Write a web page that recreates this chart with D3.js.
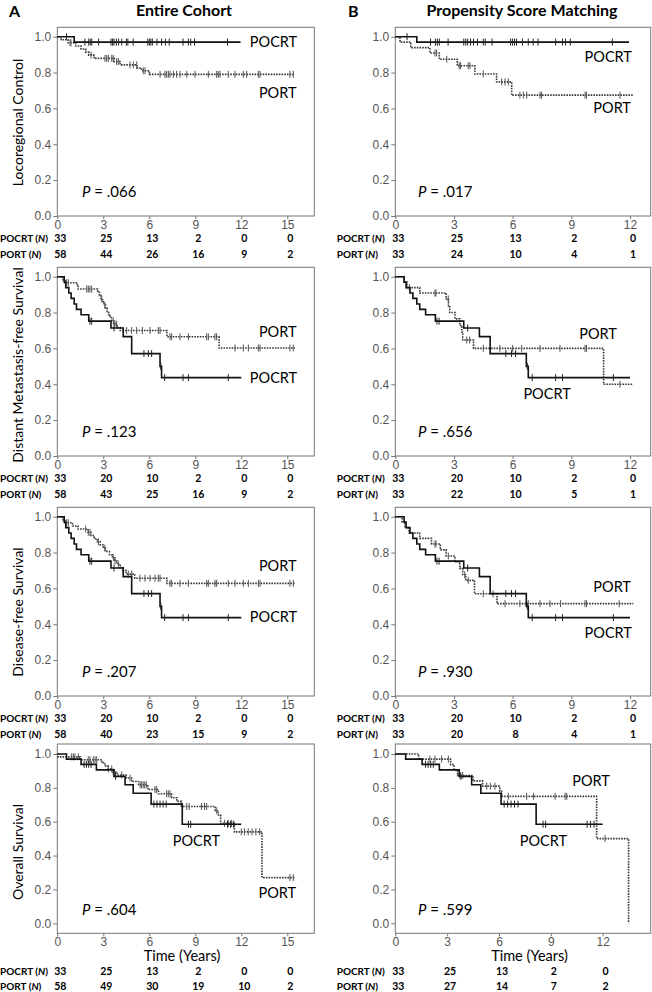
<!DOCTYPE html>
<html><head><meta charset="utf-8">
<script src="https://cdn.jsdelivr.net/npm/d3@7"></script>
<style>body{margin:0;background:#fff}</style>
</head><body><svg id="c" width="652" height="992"></svg>
<script>
// ================= DATA =================
const xTicksEntire = [0, 3, 6, 9, 12, 15];
const xTicksPsm = [0, 3, 6, 9, 12];
const yTicks = [0, 0.2, 0.4, 0.6, 0.8, 1.0];
const yLabels = ["Locoregional Control", "Distant Metastasis-free Survival", "Disease-free Survival", "Overall Survival"];
const pValues = [[".066", ".017"], [".123", ".656"], [".207", ".930"], [".604", ".599"]];

// Locoregional control
const lcPocrtEvents = [[1.1, 0.970]];
const lcPocrtCensor = [0.6, 1.8, 2.05, 2.15, 2.25, 2.7, 3.5, 3.6, 3.7, 3.85, 4.0, 4.2, 4.5, 4.6, 4.95, 5.9, 6.0, 6.1, 6.2, 6.5, 6.8, 7.05, 7.3, 8.2, 8.55, 8.7, 8.95, 11.1];
const lcPocrtEnd = 11.95;
const lcAllPortEvents = [[0.25, 0.983], [0.7, 0.966], [1.2, 0.948], [1.55, 0.931], [1.85, 0.914], [2.05, 0.897], [2.4, 0.879], [3.7, 0.861], [4.1, 0.843], [5.2, 0.825], [5.5, 0.81], [6.0, 0.79]];
const lcAllPortCensor = [0.83, 0.89, 2.2, 3.11, 3.22, 3.33, 3.55, 3.65, 3.87, 3.98, 4.74, 4.96, 5.18, 5.61, 5.72, 6.7, 7.02, 7.13, 7.24, 7.35, 7.57, 7.78, 8.0, 8.44, 8.98, 9.85, 10.39, 10.5, 10.61, 11.15, 11.59, 12.13, 12.35, 13.11, 13.22, 15.17, 15.39];
const lcAllPortEnd = 15.5;
const lcPsmPortEvents = [[0.24, 0.970], [0.79, 0.939], [1.77, 0.909], [2.25, 0.874], [3.17, 0.838], [4.07, 0.792], [5.18, 0.748], [5.95, 0.674]];
const lcPsmPortCensor = [2.03, 2.11, 2.63, 3.27, 3.34, 3.73, 3.82, 4.5, 5.44, 5.61, 5.78, 6.37, 6.55, 6.72, 7.4, 7.48, 9.7, 9.78, 11.49];
const lcPsmPortEnd = 12.17;

// Distant metastasis-free survival
const dmPocrtEvents = [[0.45, 0.970], [0.55, 0.939], [0.75, 0.909], [0.9, 0.879], [1.1, 0.848], [1.25, 0.818], [1.55, 0.788], [2.05, 0.752], [3.5, 0.714], [4.3, 0.666], [4.85, 0.571], [6.7, 0.5], [6.8, 0.437]];
const dmPocrtCensor = [2.13, 2.24, 3.7, 5.65, 5.94, 6.15, 6.75, 7.0, 8.2, 8.55, 11.15];
const dmPocrtEnd = 12.0;
const dmAllPortEvents = [[0.35, 0.983], [0.5, 0.966], [1.3, 0.948], [1.35, 0.931], [2.63, 0.913], [2.75, 0.895], [2.85, 0.877], [2.95, 0.860], [3.05, 0.842], [3.15, 0.824], [3.25, 0.806], [3.35, 0.788], [3.45, 0.771], [3.55, 0.753], [3.7, 0.735], [3.9, 0.717], [4.1, 0.70], [7.15, 0.665], [10.55, 0.602]];
const dmAllPortCensor = [0.61, 0.72, 1.92, 2.02, 2.13, 2.24, 2.9, 3.1, 3.65, 3.76, 3.87, 4.52, 4.85, 5.18, 5.55, 6.05, 6.59, 6.7, 7.35, 7.46, 8.0, 8.55, 9.74, 9.85, 10.28, 10.39, 11.59, 12.13, 12.46, 13.11, 13.22, 15.17, 15.39];
const dmAllPortEnd = 15.5;
const dmPsmPortEvents = [[0.45, 0.970], [0.6, 0.939], [1.25, 0.909], [2.6, 0.876], [2.72, 0.838], [2.78, 0.80], [3.05, 0.765], [3.3, 0.728], [3.4, 0.69], [3.45, 0.647], [4.0, 0.60], [10.65, 0.40]];
const dmPsmPortCensor = [0.72, 2.03, 2.08, 2.71, 3.65, 3.8, 4.5, 5.35, 6.0, 6.46, 7.4, 8.42, 9.7, 9.78, 11.49];
const dmPsmPortEnd = 12.17;

// Disease-free survival
const dfPocrtEvents = dmPocrtEvents;
const dfPocrtCensor = dmPocrtCensor;
const dfPocrtEnd = 12.0;
const dfAllPortEvents = [[0.35, 0.983], [0.5, 0.966], [1.0, 0.948], [1.35, 0.931], [2.0, 0.913], [2.2, 0.895], [2.4, 0.877], [2.6, 0.860], [2.8, 0.842], [3.0, 0.824], [3.15, 0.806], [3.4, 0.788], [3.6, 0.771], [3.75, 0.753], [3.9, 0.735], [4.1, 0.717], [4.3, 0.699], [4.5, 0.680], [5.05, 0.657], [7.15, 0.628]];
const dfAllPortCensor = [0.61, 0.72, 1.85, 2.02, 2.13, 2.68, 3.1, 3.65, 3.76, 3.98, 4.3, 4.63, 4.85, 5.39, 5.72, 6.05, 6.37, 6.59, 6.7, 7.35, 7.46, 8.0, 8.55, 9.74, 9.85, 10.28, 10.39, 11.15, 11.59, 12.13, 12.46, 13.11, 13.22, 15.17, 15.39];
const dfAllPortEnd = 15.5;
const dfPsmPortEvents = [[0.35, 0.970], [0.5, 0.939], [0.7, 0.909], [1.25, 0.879], [1.85, 0.848], [2.3, 0.815], [2.6, 0.781], [3.05, 0.747], [3.3, 0.712], [3.45, 0.676], [3.6, 0.645], [4.05, 0.570], [5.2, 0.515]];
const dfPsmPortCensor = [2.03, 2.08, 2.71, 3.55, 3.73, 4.5, 5.0, 5.61, 6.37, 6.8, 7.4, 7.91, 8.45, 9.7, 9.78, 11.45];
const dfPsmPortEnd = 12.17;

// Overall survival
const osPocrtEvents = [[0.6, 0.970], [1.55, 0.939], [2.55, 0.906], [3.7, 0.868], [4.42, 0.818], [4.95, 0.768], [6.12, 0.704], [8.15, 0.585]];
const osPocrtCensor = [1.75, 1.9, 2.05, 2.2, 3.8, 6.3, 6.5, 6.7, 6.9, 7.1, 8.55, 8.7, 11.1, 11.3, 11.5];
const osPocrtEnd = 12.0;
const osAllPortEvents = [[0.05, 0.983], [1.5, 0.966], [2.9, 0.948], [3.1, 0.930], [3.3, 0.912], [3.6, 0.894], [3.9, 0.876], [4.5, 0.858], [4.85, 0.838], [5.3, 0.818], [5.9, 0.79], [6.6, 0.765], [7.45, 0.742], [7.8, 0.72], [8.1, 0.69], [10.3, 0.665], [10.5, 0.64], [10.65, 0.59], [11.55, 0.54], [13.35, 0.27]];
const osAllPortCensor = [0.94, 1.05, 1.15, 1.37, 2.02, 2.13, 2.35, 2.46, 2.57, 3.33, 3.55, 3.65, 4.2, 4.74, 5.4, 5.5, 5.6, 5.7, 5.8, 6.37, 6.48, 7.13, 7.24, 7.35, 8.44, 8.6, 9.4, 9.6, 9.74, 10.4, 10.9, 11.15, 11.37, 12.0, 12.2, 12.45, 12.7, 12.95, 13.2, 15.17, 15.39];
const osAllPortEnd = 15.5;
const osPsmPortEvents = [[1.35, 0.970], [3.2, 0.937], [3.4, 0.905], [3.6, 0.873], [4.5, 0.841], [5.05, 0.81], [6.05, 0.78], [6.15, 0.75], [11.65, 0.50], [13.5, 0.0]];
const osPsmPortCensor = [2.0, 2.3, 2.68, 3.07, 3.75, 3.9, 5.29, 5.5, 5.77, 6.54, 7.6, 8.0, 9.25, 9.83, 9.92, 12.14];
const osPsmPortEnd = 13.5;

// Numbers at risk
const riskLcAllPocrt = [33, 25, 13, 2, 0, 0], riskLcAllPort = [58, 44, 26, 16, 9, 2];
const riskLcPsmPocrt = [33, 25, 13, 2, 0], riskLcPsmPort = [33, 24, 10, 4, 1];
const riskDmAllPocrt = [33, 20, 10, 2, 0, 0], riskDmAllPort = [58, 43, 25, 16, 9, 2];
const riskDmPsmPocrt = [33, 20, 10, 2, 0], riskDmPsmPort = [33, 22, 10, 5, 1];
const riskDfAllPocrt = [33, 20, 10, 2, 0, 0], riskDfAllPort = [58, 40, 23, 15, 9, 2];
const riskDfPsmPocrt = [33, 20, 10, 2, 0], riskDfPsmPort = [33, 20, 8, 4, 1];
const riskOsAllPocrt = [33, 25, 13, 2, 0, 0], riskOsAllPort = [58, 49, 30, 19, 10, 2];
const riskOsPsmPocrt = [33, 25, 13, 2, 0], riskOsPsmPort = [33, 27, 14, 7, 2];

// curve label anchors (time, survival) – text end point
const labelPosLc = [{pocrt: [15.64, 0.97], port: [15.6, 0.688]}, {pocrt: [12.1, 0.888], port: [12.05, 0.602]}];
const labelPosDm = [{pocrt: [15.64, 0.435], port: [15.6, 0.692]}, {pocrt: [8.97, 0.346], port: [11.33, 0.68]}];
const labelPosDf = [{pocrt: [15.64, 0.441], port: [15.6, 0.725]}, {pocrt: [12.1, 0.352], port: [12.05, 0.608]}];
const labelPosOs = [{pocrt: [10.61, 0.486], port: [15.57, 0.18]}, {pocrt: [9.94, 0.486], port: [12.42, 0.842]}];

// ================= LAYOUT =================
const rows = [
  {top: 27.3, y1: 36.7, y0: 216, bottom: 216, riskY: [238, 254], pY: 191.7},
  {top: 267.3, y1: 276.7, y0: 456, bottom: 456, riskY: [478, 494], pY: 431.7},
  {top: 507.3, y1: 516.7, y0: 696, bottom: 696, riskY: [718, 734], pY: 671.7},
  {top: 744, y1: 754, y0: 923.3, bottom: 933.3, riskY: [971.7, 986.7], pY: 910}
];
const cols = [
  {left: 57.3, right: 314.3, xMax: 16.76, ticks: xTicksEntire, rowLabelX: 0, pX: 82, timeX: 182},
  {left: 395.3, right: 650.7, xMax: 13.06, ticks: xTicksPsm, rowLabelX: 336.7, pX: 418, timeX: 529.5}
];
const yLabelCenters = [122.5, 365, 612, 852];

const panels = [
  [{pocrt: [lcPocrtEvents, lcPocrtCensor, lcPocrtEnd], port: [lcAllPortEvents, lcAllPortCensor, lcAllPortEnd], risk: [riskLcAllPocrt, riskLcAllPort], lab: labelPosLc[0]},
   {pocrt: [lcPocrtEvents, lcPocrtCensor, lcPocrtEnd], port: [lcPsmPortEvents, lcPsmPortCensor, lcPsmPortEnd], risk: [riskLcPsmPocrt, riskLcPsmPort], lab: labelPosLc[1]}],
  [{pocrt: [dmPocrtEvents, dmPocrtCensor, dmPocrtEnd], port: [dmAllPortEvents, dmAllPortCensor, dmAllPortEnd], risk: [riskDmAllPocrt, riskDmAllPort], lab: labelPosDm[0]},
   {pocrt: [dmPocrtEvents, dmPocrtCensor, dmPocrtEnd], port: [dmPsmPortEvents, dmPsmPortCensor, dmPsmPortEnd], risk: [riskDmPsmPocrt, riskDmPsmPort], lab: labelPosDm[1]}],
  [{pocrt: [dfPocrtEvents, dfPocrtCensor, dfPocrtEnd], port: [dfAllPortEvents, dfAllPortCensor, dfAllPortEnd], risk: [riskDfAllPocrt, riskDfAllPort], lab: labelPosDf[0]},
   {pocrt: [dfPocrtEvents, dfPocrtCensor, dfPocrtEnd], port: [dfPsmPortEvents, dfPsmPortCensor, dfPsmPortEnd], risk: [riskDfPsmPocrt, riskDfPsmPort], lab: labelPosDf[1]}],
  [{pocrt: [osPocrtEvents, osPocrtCensor, osPocrtEnd], port: [osAllPortEvents, osAllPortCensor, osAllPortEnd], risk: [riskOsAllPocrt, riskOsAllPort], lab: labelPosOs[0]},
   {pocrt: [osPocrtEvents, osPocrtCensor, osPocrtEnd], port: [osPsmPortEvents, osPsmPortCensor, osPsmPortEnd], risk: [riskOsPsmPocrt, riskOsPsmPort], lab: labelPosOs[1], xMax: 14.78}]
];

// ================= DRAW =================
const svg = d3.select("#c");
const FONT = "Lato, 'Open Sans', sans-serif";
const TICKFONT = "'Liberation Sans', Arial, sans-serif";

// titles
svg.append("text").attr("x", 9).attr("y", 17).attr("font-family", FONT).attr("font-weight", 700).attr("font-size", 16).text("A");
svg.append("text").attr("x", 184).attr("y", 16).attr("text-anchor", "middle").attr("font-family", FONT).attr("font-weight", 700).attr("font-size", 16).text("Entire Cohort");
svg.append("text").attr("x", 348).attr("y", 17).attr("font-family", FONT).attr("font-weight", 700).attr("font-size", 16).text("B");
svg.append("text").attr("x", 522).attr("y", 16).attr("text-anchor", "middle").attr("font-family", FONT).attr("font-weight", 700).attr("font-size", 16).text("Propensity Score Matching");

function stepValue(events, t) {
  let v = 1;
  for (const [et, ev] of events) if (et <= t) v = ev;
  return v;
}

rows.forEach((row, ri) => {
  // y-axis title
  svg.append("text")
    .attr("transform", `translate(17,${yLabelCenters[ri]}) rotate(-90)`)
    .attr("text-anchor", "middle").attr("dominant-baseline", "central")
    .attr("font-family", FONT).attr("font-size", 14).text(yLabels[ri]);

  cols.forEach((col, ci) => {
    const p = panels[ri][ci];
    const xMax = p.xMax || col.xMax;
    const x = d3.scaleLinear().domain([0, xMax]).range([col.left, col.right]);
    const y = d3.scaleLinear().domain([0, 1]).range([row.y0, row.y1]);
    const g = svg.append("g");

    // box
    g.append("rect").attr("x", col.left).attr("y", row.top)
      .attr("width", col.right - col.left).attr("height", row.bottom - row.top)
      .attr("fill", "none").attr("stroke", "#777").attr("stroke-width", 1);

    // y axis
    const yAxis = d3.axisLeft(y).tickValues(yTicks).tickFormat(d3.format(".1f")).tickSize(4).tickPadding(2);
    const ya = g.append("g").attr("transform", `translate(${col.left},0)`).call(yAxis);
    ya.select(".domain").remove();
    ya.selectAll("line").attr("stroke", "#777");
    ya.selectAll("text").attr("font-family", TICKFONT).attr("font-size", 12).attr("fill", "#555");

    // x axis
    const xAxis = d3.axisBottom(x).tickValues(col.ticks).tickFormat(d3.format("d")).tickSize(3).tickPadding(1);
    const xa = g.append("g").attr("transform", `translate(0,${row.bottom})`).call(xAxis);
    xa.select(".domain").remove();
    xa.selectAll("line").attr("stroke", "#777");
    xa.selectAll("text").attr("font-family", TICKFONT).attr("font-size", 12).attr("fill", "#555");

    // curves
    const line = d3.line().x(d => x(d[0])).y(d => y(d[1])).curve(d3.curveStepAfter);
    const series = [
      {key: "port", color: "#3a3a3a", dash: "1.6,1.1", width: 1.6, tick: "#555"},
      {key: "pocrt", color: "#111", dash: null, width: 1.6, tick: "#222"}
    ];
    series.forEach(s => {
      const [events, censor, end] = p[s.key];
      const pts = [[0, 1], ...events, [end, events[events.length - 1][1]]];
      g.append("path").attr("d", line(pts)).attr("fill", "none")
        .attr("stroke", s.color).attr("stroke-width", s.width)
        .attr("stroke-dasharray", s.dash);
      g.selectAll(null).data(censor).enter().append("line")
        .attr("x1", d => x(d)).attr("x2", d => x(d))
        .attr("y1", d => y(stepValue(events, d)) - 3.5)
        .attr("y2", d => y(stepValue(events, d)) + 3.5)
        .attr("stroke", s.tick).attr("stroke-width", 1);
    });

    // curve labels
    [["pocrt", "POCRT"], ["port", "PORT"]].forEach(([k, txt]) => {
      const [lt, lv] = p.lab[k];
      g.append("text").attr("x", x(lt)).attr("y", y(lv)).attr("dy", "0.36em")
        .attr("text-anchor", "end").attr("font-family", FONT).attr("font-size", 14.5).text(txt);
    });

    // P value
    const pt = g.append("text").attr("x", col.pX).attr("y", row.pY).attr("dy", "0.36em")
      .attr("font-family", FONT).attr("font-size", 15);
    pt.append("tspan").attr("font-style", "italic").text("P");
    pt.append("tspan").text(" = " + pValues[ri][ci]);

    // x title (bottom row)
    if (ri === 3) {
      g.append("text").attr("x", col.timeX).attr("y", 956).attr("dy", "0.36em")
        .attr("text-anchor", "middle").attr("font-family", FONT).attr("font-size", 14.5).text("Time (Years)");
    }

    // numbers at risk
    ["POCRT", "PORT"].forEach((name, k) => {
      const yy = row.riskY[k];
      const lt = g.append("text").attr("x", col.rowLabelX).attr("y", yy).attr("dy", "0.36em")
        .attr("font-family", FONT).attr("font-weight", 700).attr("font-size", 10);
      lt.append("tspan").text(name + " (");
      lt.append("tspan").attr("font-style", "italic").text("N");
      lt.append("tspan").text(")");
      g.selectAll(null).data(p.risk[k]).enter().append("text")
        .attr("x", (d, i) => x(col.ticks[i]) + 3).attr("y", yy).attr("dy", "0.36em")
        .attr("text-anchor", "middle").attr("font-family", FONT).attr("font-weight", 700).attr("font-size", 10.5)
        .text(d => d);
    });
  });
});
</script>
</body></html>
